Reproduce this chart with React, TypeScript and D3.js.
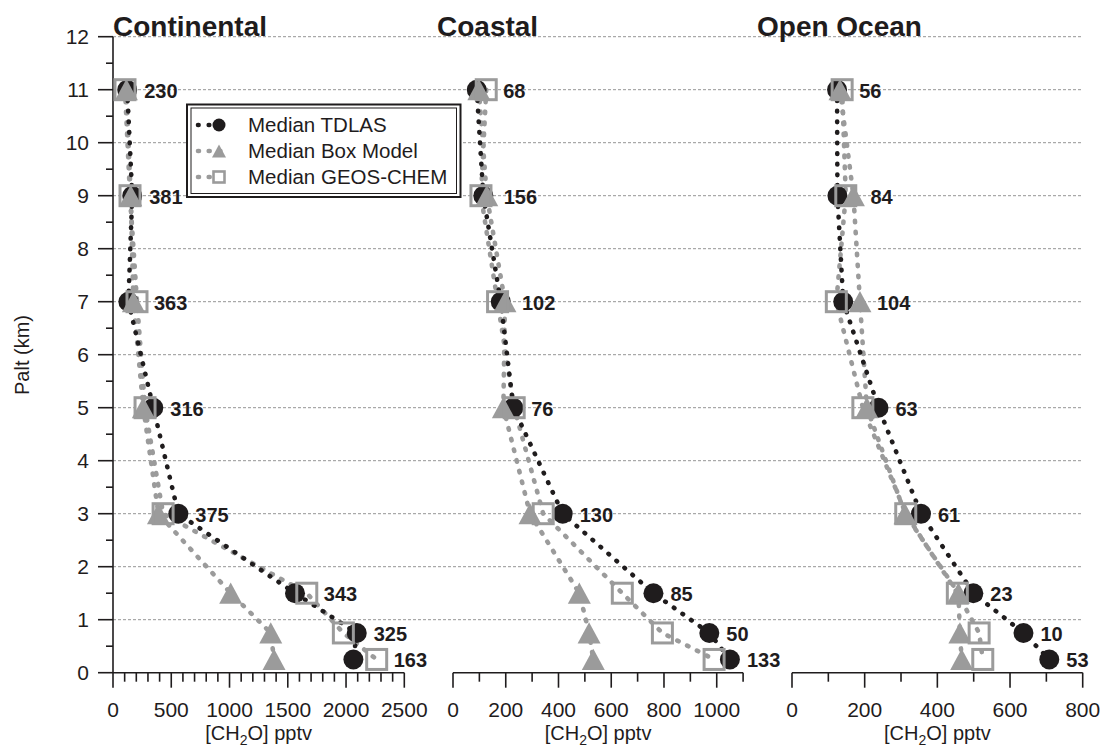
import { useEffect, useRef } from "react";
import * as d3 from "d3";

// altitude bins (km) shared by the three panels
const altitudes = [11, 9, 7, 5, 3, 1.5, 0.75, 0.25];

const continentalTdlas = [122, 165, 132, 346, 561, 1562, 2092, 2063];
const continentalBox = [115, 152, 175, 260, 390, 1010, 1354, 1382];
const continentalGeos = [103, 146, 206, 275, 430, 1663, 1977, 2263];
const continentalCounts = [230, 381, 363, 316, 375, 343, 325, 163];

const coastalTdlas = [90, 115, 181, 229, 416, 760, 972, 1050];
const coastalBox = [98, 128, 197, 191, 292, 479, 516, 532];
const coastalGeos = [126, 106, 169, 232, 342, 642, 794, 990];
const coastalCounts = [68, 156, 102, 76, 130, 85, 50, 133];

const oceanTdlas = [124, 125, 141, 238, 355, 499, 637, 708];
const oceanBox = [132, 169, 187, 206, 311, 458, 462, 467];
const oceanGeos = [138, 148, 122, 195, 313, 455, 515, 525];
const oceanCounts = [56, 84, 104, 63, 61, 23, 10, 53];

const yTicks = d3.range(0, 13);
const continentalTicks = [0, 500, 1000, 1500, 2000, 2500];
const coastalTicks = [0, 200, 400, 600, 800, 1000];
const oceanTicks = [0, 200, 400, 600, 800];

const legendLabels = ["Median TDLAS", "Median Box Model", "Median GEOS-CHEM"];

const BLACK = "#1f1c1d";
const GRAY = "#9b9b9b";
const FONT = "'Liberation Sans', Arial, Helvetica, sans-serif";

export default function App() {
  const svgRef = useRef<SVGSVGElement>(null);

  useEffect(() => {
    if (!svgRef.current) return;
    const svg = d3.select(svgRef.current);
    svg.selectAll("*").remove();

    const y = d3.scaleLinear().domain([0, 12]).range([672.7, 36.7]);

    const panels = [
      { title: "Continental", titleX: 113, max: 2500, range: [113, 404.3], ticks: continentalTicks, minor: 100,
        tdlas: continentalTdlas, box: continentalBox, geos: continentalGeos, counts: continentalCounts },
      { title: "Coastal", titleX: 437, max: 1100, range: [453, 743.1], ticks: coastalTicks, minor: 100,
        tdlas: coastalTdlas, box: coastalBox, geos: coastalGeos, counts: coastalCounts },
      { title: "Open Ocean", titleX: 757, max: 800, range: [792, 1082.7], ticks: oceanTicks, minor: 100,
        tdlas: oceanTdlas, box: oceanBox, geos: oceanGeos, counts: oceanCounts },
    ];

    // horizontal dashed grid across all panels
    svg.append("g")
      .selectAll("line")
      .data(yTicks.filter(t => t > 0))
      .enter()
      .append("line")
      .attr("x1", 113)
      .attr("x2", 1082.7)
      .attr("y1", d => y(d))
      .attr("y2", d => y(d))
      .attr("stroke", "#8a8a8a")
      .attr("stroke-width", 0.9)
      .attr("stroke-dasharray", "3,2");

    // y axis
    const gy = svg.append("g").attr("transform", "translate(113,0)");
    gy.append("line").attr("x1", 0).attr("x2", 0).attr("y1", y(0)).attr("y2", y(12))
      .attr("stroke", BLACK).attr("stroke-width", 1.6);
    gy.selectAll(".minor").data(d3.range(0.5, 12, 1)).enter().append("line")
      .attr("x1", -7).attr("x2", 0).attr("y1", d => y(d)).attr("y2", d => y(d))
      .attr("stroke", BLACK).attr("stroke-width", 1.6);
    gy.selectAll(".major").data(yTicks).enter().append("line")
      .attr("x1", -15).attr("x2", 0).attr("y1", d => y(d)).attr("y2", d => y(d))
      .attr("stroke", BLACK).attr("stroke-width", 1.6);
    gy.selectAll("text").data(yTicks).enter().append("text")
      .attr("x", -24).attr("y", d => y(d) + 7.5)
      .attr("text-anchor", "end")
      .attr("font-size", 21).attr("font-family", FONT).attr("fill", BLACK)
      .text(d => d);

    svg.append("text")
      .attr("transform", `translate(29,355) rotate(-90)`)
      .attr("text-anchor", "middle")
      .attr("font-size", 20).attr("font-family", FONT).attr("fill", BLACK)
      .text("Palt (km)");

    const triPath = (s: number) => {
      const h = s * 0.92;
      return `M0,${-h / 2}L${s / 2},${h / 2}L${-s / 2},${h / 2}Z`;
    };

    const dotted = (sel: any, color: string, dash: string) =>
      sel.attr("fill", "none")
        .attr("stroke", color)
        .attr("stroke-width", 4.6)
        .attr("stroke-linecap", "round")
        .attr("stroke-dasharray", dash);

    panels.forEach(p => {
      const x = d3.scaleLinear().domain([0, p.max]).range(p.range);
      const g = svg.append("g");

      // x axis
      g.append("line").attr("x1", x(0)).attr("x2", x(p.max)).attr("y1", y(0)).attr("y2", y(0))
        .attr("stroke", BLACK).attr("stroke-width", 1.6);
      g.selectAll(".xminor").data(d3.range(0, p.max + 1, p.minor).filter(v => !p.ticks.includes(v)))
        .enter().append("line")
        .attr("x1", d => x(d)).attr("x2", d => x(d)).attr("y1", y(0)).attr("y2", y(0) + 9)
        .attr("stroke", BLACK).attr("stroke-width", 1.6);
      g.selectAll(".xmajor").data(p.ticks).enter().append("line")
        .attr("x1", d => x(d)).attr("x2", d => x(d)).attr("y1", y(0)).attr("y2", y(0) + 15)
        .attr("stroke", BLACK).attr("stroke-width", 1.6);
      g.selectAll(".xlab").data(p.ticks).enter().append("text")
        .attr("x", d => x(d)).attr("y", 716.8)
        .attr("text-anchor", "middle")
        .attr("font-size", 21).attr("font-family", FONT).attr("fill", BLACK)
        .text(d => d);

      const xl = g.append("text")
        .attr("x", (p.range[0] + p.range[1]) / 2).attr("y", 740)
        .attr("text-anchor", "middle")
        .attr("font-size", 20).attr("font-family", FONT).attr("fill", BLACK);
      xl.append("tspan").text("[CH");
      xl.append("tspan").attr("font-size", 14).attr("dy", 5).text("2");
      xl.append("tspan").attr("dy", -5).text("O] pptv");

      // title
      g.append("text")
        .attr("x", p.titleX).attr("y", 36)
        .attr("font-size", 28).attr("font-weight", "bold")
        .attr("font-family", FONT).attr("fill", BLACK)
        .text(p.title);

      const line = (vals: number[]) =>
        d3.line<number>().x(v => x(v)).y((_, i) => y(altitudes[i]))(vals);

      dotted(g.append("path").attr("d", line(p.geos)), GRAY, "1.5 9.5");
      dotted(g.append("path").attr("d", line(p.box)), GRAY, "1.5 9.5");
      dotted(g.append("path").attr("d", line(p.tdlas)), BLACK, "0.6 10");

      g.selectAll(".circ").data(p.tdlas).enter().append("circle")
        .attr("cx", d => x(d)).attr("cy", (_, i) => y(altitudes[i]))
        .attr("r", 10).attr("fill", BLACK);
      g.selectAll(".tri").data(p.box).enter().append("path")
        .attr("d", triPath(23))
        .attr("transform", (d, i) => `translate(${x(d)},${y(altitudes[i])})`)
        .attr("fill", GRAY);
      g.selectAll(".sq").data(p.geos).enter().append("rect")
        .attr("x", d => x(d) - 10).attr("y", (_, i) => y(altitudes[i]) - 10)
        .attr("width", 20).attr("height", 20)
        .attr("fill", "none").attr("stroke", GRAY).attr("stroke-width", 3);

      // number of observations beside each bin
      g.selectAll(".count").data(p.counts).enter().append("text")
        .attr("x", (_, i) => Math.max(x(p.tdlas[i]), x(p.box[i]), x(p.geos[i])) + 17)
        .attr("y", (_, i) => y(altitudes[i]) + 8)
        .attr("font-size", 20).attr("font-weight", "bold")
        .attr("font-family", FONT).attr("fill", BLACK)
        .text(d => d);
    });

    // legend
    const lg = svg.append("g");
    lg.append("rect").attr("x", 187).attr("y", 104.5).attr("width", 273.5).attr("height", 92.5)
      .attr("fill", "white").attr("stroke", BLACK).attr("stroke-width", 2);
    lg.append("rect").attr("x", 191).attr("y", 108).attr("width", 265.5).attr("height", 85.5)
      .attr("fill", "none").attr("stroke", BLACK).attr("stroke-width", 1);
    const rows = lg.selectAll(".row").data(legendLabels).enter().append("g")
      .attr("transform", (_, i) => `translate(0,${125 + i * 26})`);
    rows.each(function (_, i) {
      const r = d3.select(this);
      dotted(r.append("line").attr("x1", 198).attr("x2", 230).attr("y1", 0).attr("y2", 0),
        i === 0 ? BLACK : GRAY, i === 0 ? "0.6 10.1" : "1 9.7");
      if (i === 0) r.append("circle").attr("cx", 219).attr("cy", 0).attr("r", 6.5).attr("fill", BLACK);
      if (i === 1) r.append("path").attr("d", triPath(14)).attr("transform", "translate(219,0)").attr("fill", GRAY);
      if (i === 2) r.append("rect").attr("x", 213.5).attr("y", -5.5).attr("width", 11).attr("height", 11)
        .attr("fill", "white").attr("stroke", GRAY).attr("stroke-width", 2.6);
    });
    rows.append("text")
      .attr("x", 248).attr("y", 7)
      .attr("font-size", 20.5).attr("font-family", FONT).attr("fill", BLACK)
      .text(d => d);
  }, []);

  return (
    <div style={{ position: "absolute", left: 0, top: 0 }}>
      <svg ref={svgRef} width={1103} height={754} style={{ display: "block", background: "white" }}></svg>
    </div>
  );
}
